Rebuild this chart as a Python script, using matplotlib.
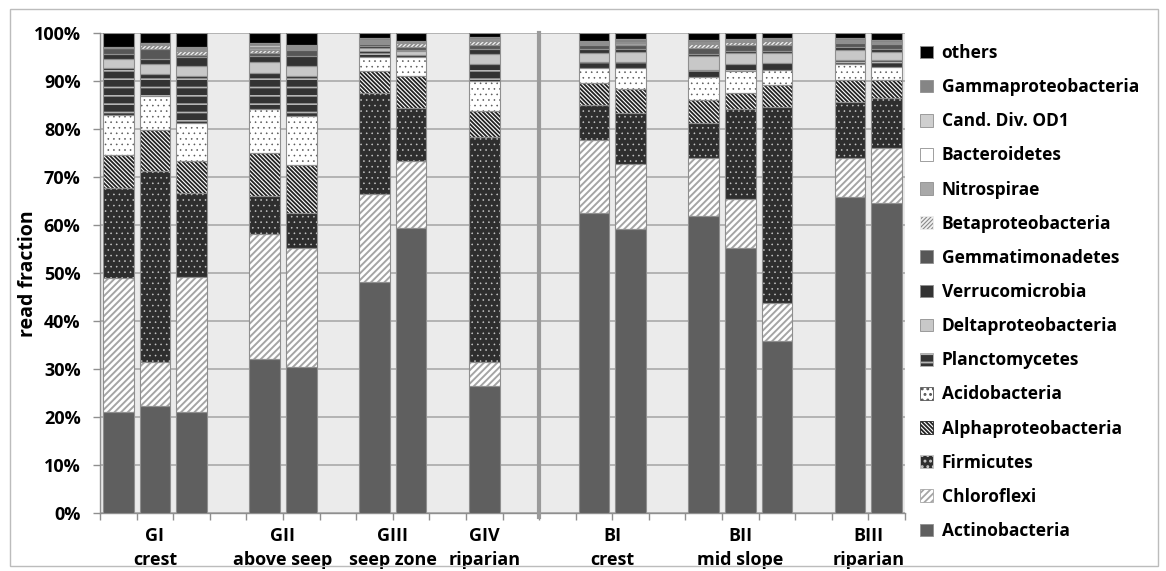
import numpy as np
import matplotlib.pyplot as plt
from matplotlib.patches import Patch, Rectangle

plt.rcParams['font.family'] = ['Open Sans', 'DejaVu Sans']
plt.rcParams['font.weight'] = 'bold'
plt.rcParams['hatch.linewidth'] = 1.3

# Sample groups (x axis)
groups = ['GI', 'GII', 'GIII', 'GIV', 'BI', 'BII', 'BIII']
sites = ['crest', 'above seep', 'seep zone', 'riparian', 'crest', 'mid slope', 'riparian']
samples_per_group = [3, 2, 2, 1, 2, 3, 2]

# read fraction (%) per sample, stacked bottom to top
actinobacteria = [21.0, 22.3, 21.0, 32.0, 30.5, 48.2, 59.3, 26.5, 62.6, 59.2, 61.9, 55.3, 35.9, 65.9, 64.6]
chloroflexi = [28.0, 9.2, 28.2, 26.1, 24.8, 18.2, 14.1, 5.0, 15.1, 13.5, 12.1, 10.1, 7.8, 8.1, 11.5]
firmicutes = [18.7, 39.8, 17.4, 8.0, 7.1, 21.0, 10.9, 46.9, 7.2, 10.6, 7.3, 18.8, 40.8, 11.7, 10.3]
alphaproteobacteria = [6.9, 8.4, 6.7, 8.8, 10.0, 4.7, 6.7, 5.4, 4.7, 5.0, 4.7, 3.4, 4.7, 4.6, 3.8]
acidobacteria = [8.3, 7.1, 8.0, 9.3, 10.3, 2.8, 4.1, 6.2, 3.2, 4.5, 4.8, 4.5, 3.1, 3.2, 2.8]
planctomycetes = [9.9, 4.7, 9.7, 7.4, 8.3, 1.4, 0.3, 3.5, 1.2, 1.1, 1.5, 1.4, 1.4, 0.9, 1.4]
deltaproteobacteria = [1.8, 2.0, 2.1, 2.4, 2.1, 0.6, 0.8, 2.1, 1.8, 2.2, 2.9, 2.3, 2.1, 2.1, 1.7]
verrucomicrobia = [1.0, 1.0, 1.8, 1.2, 2.2, 0.3, 0.3, 1.0, 0.8, 0.5, 0.4, 0.4, 0.4, 0.5, 0.6]
gemmatimonadetes = [1.2, 2.2, 0.5, 0.6, 1.2, 0.6, 0.5, 0.9, 1.0, 0.9, 1.2, 1.3, 1.3, 1.0, 1.0]
betaproteobacteria = [0.0, 0.8, 0.8, 0.7, 0.2, 0.1, 0.9, 0.9, 0.1, 0.1, 1.0, 0.7, 0.9, 0.1, 0.1]
nitrospirae = [0.1, 0.1, 0.2, 0.3, 0.2, 0.3, 0.1, 0.1, 0.2, 0.3, 0.2, 0.1, 0.1, 0.2, 0.2]
bacteroidetes = [0.0, 0.2, 0.2, 0.3, 0.1, 0.1, 0.1, 0.2, 0.1, 0.1, 0.1, 0.1, 0.1, 0.1, 0.1]
cand_div_od1 = [0.0, 0.1, 0.2, 0.5, 0.2, 0.2, 0.1, 0.1, 0.1, 0.2, 0.1, 0.1, 0.1, 0.1, 0.1]
gammaproteobacteria = [0.1, 0.1, 0.3, 0.3, 0.4, 0.4, 0.2, 0.3, 0.3, 0.6, 0.3, 0.2, 0.2, 0.4, 0.3]
others = [3.0, 2.0, 2.9, 2.1, 2.4, 1.1, 1.6, 0.9, 1.6, 1.2, 1.5, 1.3, 1.1, 1.1, 1.5]

taxa = ['Actinobacteria', 'Chloroflexi', 'Firmicutes', 'Alphaproteobacteria', 'Acidobacteria',
        'Planctomycetes', 'Deltaproteobacteria', 'Verrucomicrobia', 'Gemmatimonadetes',
        'Betaproteobacteria', 'Nitrospirae', 'Bacteroidetes', 'Cand. Div. OD1',
        'Gammaproteobacteria', 'others']
series = [actinobacteria, chloroflexi, firmicutes, alphaproteobacteria, acidobacteria,
          planctomycetes, deltaproteobacteria, verrucomicrobia, gemmatimonadetes,
          betaproteobacteria, nitrospirae, bacteroidetes, cand_div_od1,
          gammaproteobacteria, others]

# (face, hatch, hatch colour, hatch line width)
styles = [
    ('#5f5f5f', None, '#8a8a8a', 1.0),
    ('#ffffff', '/////', '#a5a5a5', 1.4),
    ('#2e2e2e', '...', '#c8c8c8', 0.4),
    ('#ffffff', '\\' * 8, '#222222', 1.3),
    ('#ffffff', '...', '#555555', 0.4),
    ('#333333', '--', '#b5b5b5', 1.2),
    ('#c8c8c8', None, '#8a8a8a', 1.0),
    ('#333333', None, '#8a8a8a', 1.0),
    ('#575757', None, '#8a8a8a', 1.0),
    ('#8a8a8a', '////////', '#f0f0f0', 1.0),
    ('#a8a8a8', None, '#8a8a8a', 1.0),
    ('#ffffff', None, '#8a8a8a', 1.0),
    ('#cfcfcf', None, '#8a8a8a', 1.0),
    ('#858585', None, '#8a8a8a', 1.0),
    ('#000000', None, '#8a8a8a', 1.0),
]

# bar slots: one empty slot after each group, an extra one at the G/B split
positions = []
centers = []
slot = 0
split = None
for g, n in zip(groups, samples_per_group):
    positions.extend(range(slot, slot + n))
    centers.append(slot + (n - 1) / 2)
    slot += n + 1
    if g == 'GIV':
        split = slot - 0.5
        slot += 1
positions = np.array(positions)

fig = plt.figure(figsize=(11.66, 5.71), dpi=100)
ax = fig.add_axes([100 / 1166, 58 / 571, 805 / 1166, 480 / 571])
ax.set_facecolor('#ebebeb')

width = 0.84
bottom = np.zeros(len(positions))
for vals, (face, hatch, hc, hlw) in zip(series, styles):
    vals = np.array(vals)
    bars = ax.bar(positions, vals, width, bottom=bottom, color=face, edgecolor=hc,
                  hatch=hatch, linewidth=0, zorder=3)
    for p in bars:
        if hasattr(p, 'set_hatch_linewidth'):
            p.set_hatch_linewidth(hlw)
    ax.bar(positions, vals, width, bottom=bottom, fill=False, edgecolor='#8f8f8f',
           linewidth=0.8, zorder=4)
    bottom += vals

ax.set_xlim(-0.5, slot - 1.5)
ax.set_ylim(0, 100)
ax.set_yticks(np.arange(0, 101, 10))
ax.set_yticklabels([f'{v}%' for v in range(0, 101, 10)], fontsize=13, fontweight='bold')
ax.yaxis.grid(True, color='#a9a9a9', linewidth=1.2, zorder=1)
ax.set_axisbelow(True)
ax.tick_params(axis='y', length=5, color='#8f8f8f', width=1, pad=9)

ax.set_xticks([])
ax.set_xticks(np.arange(-0.5, slot - 1, 1), minor=True)
ax.tick_params(axis='x', which='minor', length=5, color='#8f8f8f', width=1)

for s in ['top', 'right']:
    ax.spines[s].set_visible(False)
for s in ['left', 'bottom']:
    ax.spines[s].set_color('#8f8f8f')
    ax.spines[s].set_linewidth(1)

ax.axvline(split, color='#9a9a9a', linewidth=3, zorder=5, clip_on=False, ymin=-0.008)

for c, g, st in zip(centers, groups, sites):
    ax.text(c, -0.048, g, transform=ax.get_xaxis_transform(), ha='center', va='center',
            fontsize=13, fontweight='bold')
    ax.text(c, -0.098, st, transform=ax.get_xaxis_transform(), ha='center', va='center',
            fontsize=13, fontweight='bold')

fig.text(28 / 1166, 0.52, 'read fraction', rotation=90, ha='center', va='center',
         fontsize=14, fontweight='bold')

handles = []
for (face, hatch, hc, hlw) in styles:
    edge = hc if hatch else '#8f8f8f'
    handles.append(Patch(facecolor=face, edgecolor=edge, hatch=hatch, linewidth=0.6))
fig.legend(handles[::-1], taxa[::-1], loc='upper left', bbox_to_anchor=(920 / 1166, 1 - 44 / 571),
           frameon=False, handlelength=0.75, handleheight=0.75,
           handletextpad=0.5, labelspacing=0.93, borderpad=0, borderaxespad=0,
           prop={'weight': 'bold', 'size': 12.5})

fig.patches.append(Rectangle((10 / 1166, 5 / 571), 1148 / 1166, 557 / 571, transform=fig.transFigure,
                             fill=False, edgecolor='#bcbcbc', linewidth=1))

plt.savefig('out.png', dpi=100)
